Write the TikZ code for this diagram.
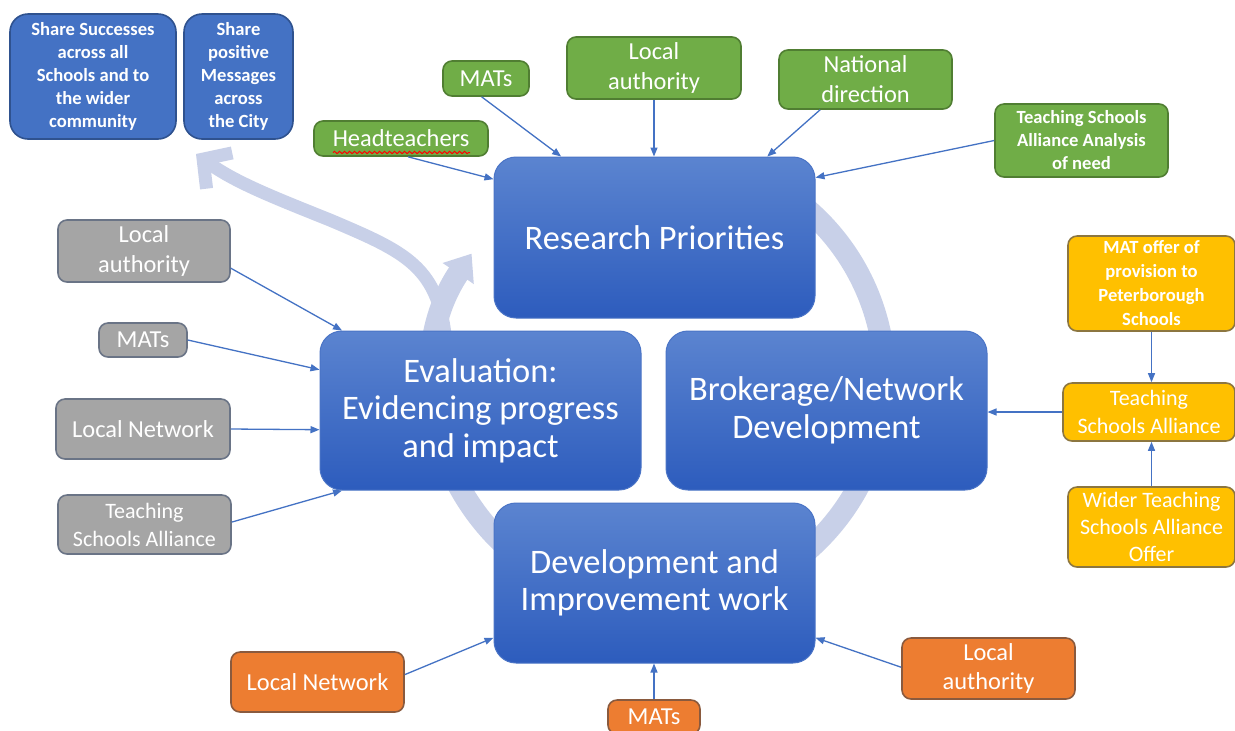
\documentclass[tikz,border=0pt]{standalone}
\usepackage{fontspec}
\setmainfont{Carlito}
\usetikzlibrary{arrows.meta,calc,decorations.pathmorphing}
\definecolor{mainTop}{HTML}{5B84D0}
\definecolor{mainBot}{HTML}{2D5CBD}
\definecolor{mainEdge}{HTML}{4A74C6}
\definecolor{accBlue}{HTML}{4472C4}
\definecolor{accBlueEdge}{HTML}{2F528F}
\definecolor{grnFill}{HTML}{70AD47}
\definecolor{grnEdge}{HTML}{507E32}
\definecolor{gryFill}{HTML}{A5A5A5}
\definecolor{gryEdge}{HTML}{6A7486}
\definecolor{ylwFill}{HTML}{FFC000}
\definecolor{ylwEdge}{HTML}{8C7640}
\definecolor{orgFill}{HTML}{ED7D31}
\definecolor{orgEdge}{HTML}{8A5A3E}
\definecolor{ringCol}{HTML}{C8D0E8}
\definecolor{linkCol}{HTML}{4472C4}
\begin{document}
\begin{tikzpicture}[x=0.5pt,y=-0.5pt,
  mainbox/.style={rounded corners=11pt, top color=mainTop, bottom color=mainBot, draw=mainEdge, line width=0.5pt, text=white, align=center, inner sep=0pt, minimum width=160.5pt, minimum height=80pt, font=\fontsize{17.2}{18.7}\selectfont},
  smallbox/.style={rounded corners=4.5pt, line width=0.8pt, text=white, align=center, inner sep=0pt, font=\fontsize{12.2}{14.9}\selectfont},
  shareBox/.style={smallbox, rounded corners=9pt, fill=accBlue, draw=accBlueEdge, font=\bfseries\fontsize{9.3}{11.5}\selectfont},
  greenBox/.style={smallbox, fill=grnFill, draw=grnEdge},
  grayBox/.style={smallbox, fill=gryFill, draw=gryEdge},
  yellowBox/.style={smallbox, fill=ylwFill, draw=ylwEdge},
  orangeBox/.style={smallbox, fill=orgFill, draw=orgEdge},
  link/.style={draw=linkCol, line width=0.65pt, -{Triangle[length=4.5pt,width=3.5pt]}},
]
\useasboundingbox (0,0) rectangle (1235,730);
\clip (0,0) rectangle (1235,730);
\fill[white] (0,0) rectangle (1235,730);

% cycle ring and branch arrow
\draw[ringCol, line width=11pt, -{Triangle[length=12pt,width=18pt]}] (798.1,201.9) arc[start angle=-52, end angle=214, radius=226];
\coordinate (brtip) at (196,154);
\draw[ringCol, line width=6.5pt, -{Straight Barb[length=10pt,width=22pt]}] (446,345) .. controls (440,266) and (405,252) .. (330,220) .. controls (270,196) and (235,182) .. (brtip);

% main boxes
\node[mainbox, minimum height=80.5pt] (rp) at (654.5,237.5) {Research Priorities};
\node[mainbox, minimum height=79.5pt] (ev) at (480.5,410.5) {Evaluation:\\Evidencing progress\\and impact};
\node[mainbox, minimum height=79.5pt] (br) at (826.5,410.5) {Brokerage/Network\\Development};
\node[mainbox] (dv) at (654.5,583) {Development and\\Improvement work};

% share boxes
\node[shareBox, minimum width=83pt, minimum height=62.5pt] (ss) at (93,76.5) {Share Successes\\across all\\Schools and to\\the wider\\community};
\node[shareBox, minimum width=54.5pt, minimum height=62.5pt] (sp) at (238.5,76.5) {Share\\positive\\Messages\\across\\the City};

% green
\node[greenBox, minimum width=43pt, minimum height=17.5pt] (gmats) at (486,78.5) {MATs};
\node[greenBox, minimum width=87pt, minimum height=17.5pt] (ght) at (401,138.5) {Headteachers};
\node[greenBox, minimum width=87pt, minimum height=31pt] (gla) at (654,68) {Local\\authority};
\node[greenBox, minimum width=86.5pt, minimum height=29.5pt] (gnd) at (865.5,79.5) {National\\direction};
\node[greenBox, minimum width=86.5pt, minimum height=36.5pt, font=\bfseries\fontsize{9.3}{11.5}\selectfont] (gtsa) at (1081.5,140.5) {Teaching Schools\\Alliance Analysis\\of need};
\draw[red, line width=0.5pt, decorate, decoration={snake, amplitude=0.6pt, segment length=2.5pt}] ($(ght.center)+(-68,14)$) -- ($(ght.center)+(69,14)$);

% gray
\node[grayBox, minimum width=86pt, minimum height=31pt] (xla) at (144,251) {Local\\authority};
\node[grayBox, minimum width=44pt, minimum height=17pt] (xmats) at (143,340) {MATs};
\node[grayBox, minimum width=87pt, minimum height=30pt] (xln) at (143,429) {Local Network};
\node[grayBox, minimum width=86.5pt, minimum height=29.5pt, font=\fontsize{11}{14}\selectfont] (xtsa) at (144.5,524.5) {Teaching\\Schools Alliance};

% yellow
\node[yellowBox, minimum width=83.5pt, minimum height=47.5pt, font=\bfseries\fontsize{9.3}{12}\selectfont] (ymo) at (1151.5,283.5) {MAT offer of\\provision to\\Peterborough\\Schools};
\node[yellowBox, minimum width=86pt, minimum height=29pt, font=\fontsize{11}{14}\selectfont] (yts) at (1149,412) {Teaching\\Schools Alliance};
\node[yellowBox, minimum width=83.5pt, minimum height=40pt, font=\fontsize{11}{13.5}\selectfont] (ywo) at (1151.5,527) {Wider Teaching\\Schools Alliance\\Offer};

% orange
\node[orangeBox, minimum width=86.5pt, minimum height=30pt] (oln) at (317.5,682) {Local Network};
\node[orangeBox, minimum width=46pt, minimum height=17pt] (omats) at (654,717) {MATs};
\node[orangeBox, minimum width=86.5pt, minimum height=30.5pt] (ola) at (988.5,668.5) {Local\\authority};

% connectors into Research Priorities
\draw[link] ($(gmats.south west)!0.45!(gmats.south east)$) -- ($(rp.north west)!0.21!(rp.north east)$);
\draw[link] (gla.south) -- (gla.south |- rp.north);
\draw[link] ($(gnd.south west)!0.24!(gnd.south east)$) -- ($(rp.north west)!0.85!(rp.north east)$);
\draw[link] (gtsa.west) -- ($(rp.north east)!0.13!(rp.south east)$);
\draw[link] ($(ght.south west)!0.54!(ght.south east)$) -- ($(rp.north west)!0.14!(rp.south west)$);

% connectors into Evaluation
\draw[link] ($(xla.north east)!0.77!(xla.south east)$) -- ($(ev.north west)!0.07!(ev.north east)$);
\draw[link] (xmats.east) -- ($(ev.north west)!0.245!(ev.south west)$);
\draw[link] (xln.east) -- ($(ev.north west)!0.62!(ev.south west)$);
\draw[link] ($(xtsa.north east)!0.46!(xtsa.south east)$) -- ($(ev.south west)!0.07!(ev.south east)$);

% yellow chain into Brokerage
\draw[link] (ymo.south) -- (ymo.south |- yts.north);
\draw[link] (ywo.north) -- (ywo.north |- yts.south);
\draw[link] (yts.west) -- (yts.west -| br.east);

% connectors into Development
\draw[link] ($(oln.north east)!0.38!(oln.south east)$) -- ($(dv.north west)!0.84!(dv.south west)$);
\draw[link] (omats.north) -- (omats.north |- dv.south);
\draw[link] ($(ola.north west)!0.48!(ola.south west)$) -- ($(dv.north east)!0.84!(dv.south east)$);
\end{tikzpicture}
\end{document}
